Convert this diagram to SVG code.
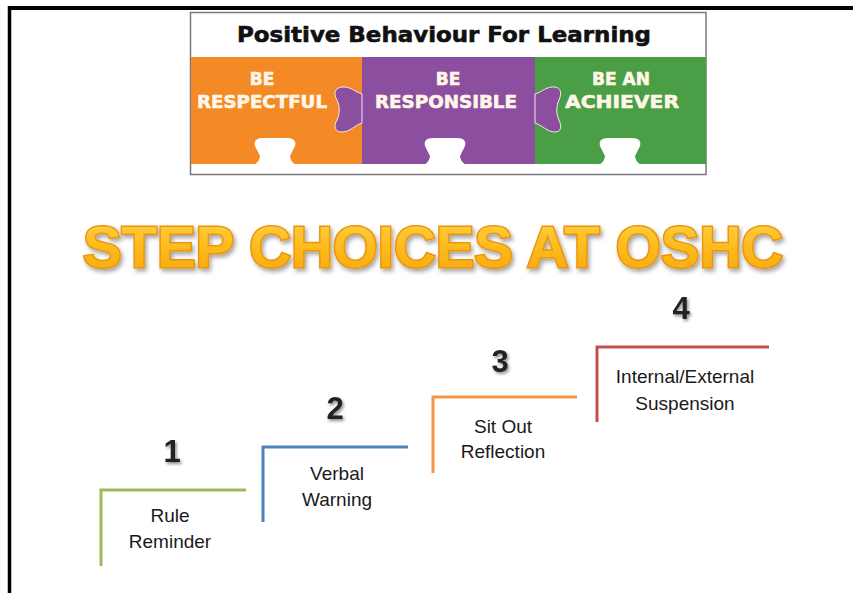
<svg xmlns="http://www.w3.org/2000/svg" width="853" height="593" viewBox="0 0 853 593">
<defs>
  <linearGradient id="gold" x1="0" y1="0" x2="0" y2="1">
    <stop offset="0" stop-color="#FFD54A"/>
    <stop offset="0.5" stop-color="#FDBB1E"/>
    <stop offset="1" stop-color="#F7A70A"/>
  </linearGradient>
  <filter id="tshadow" x="-10%" y="-30%" width="120%" height="160%">
    <feDropShadow dx="2" dy="3" stdDeviation="2" flood-color="#000" flood-opacity="0.35"/>
  </filter>
  <filter id="dshadow" x="-40%" y="-40%" width="180%" height="180%">
    <feDropShadow dx="1.5" dy="2" stdDeviation="1.5" flood-color="#000" flood-opacity="0.45"/>
  </filter>
  <path id="notch" d="M-21,165 Q-15,161 -15,156 L-20,146 Q-22,138 -12,138 L12,138 Q22,138 20,146 L15,156 Q15,161 21,165 Z"/>
</defs>
<style>
  .banner-t{font-family:"DejaVu Sans","Liberation Sans",sans-serif;font-weight:bold;fill:#111;stroke:#111;stroke-width:0.6;}
  .piece-t{font-family:"DejaVu Sans","Liberation Sans",sans-serif;font-weight:bold;fill:#FFF6E8;stroke:#FFF6E8;stroke-width:0.6;text-anchor:middle;}
  .title{font-family:"Liberation Sans",Arial,sans-serif;font-weight:bold;font-size:58px;fill:url(#gold);stroke:#EC940C;stroke-width:3;paint-order:stroke;text-anchor:middle;}
  .digit{font-family:"Liberation Sans",Arial,sans-serif;font-weight:bold;font-size:31px;fill:#222;text-anchor:middle;}
  .label{font-family:"Liberation Sans",Arial,sans-serif;font-size:19px;fill:#1a1a1a;text-anchor:middle;}
  .step{fill:none;stroke-width:3;}
</style>
<rect x="0" y="0" width="853" height="593" fill="#fff"/>
<g id="frame">
  <line x1="8" y1="8" x2="853" y2="8" stroke="#000" stroke-width="4"/>
  <line x1="9.5" y1="6" x2="9.5" y2="593" stroke="#000" stroke-width="3.5"/>
</g>
<g id="banner">
  <rect x="190.5" y="12.5" width="515.5" height="162" fill="#fff" stroke="#7a7a7a" stroke-width="1.5"/>
  <text class="banner-t" x="237" y="42" font-size="21" textLength="414" lengthAdjust="spacingAndGlyphs">Positive Behaviour For Learning</text>
  <rect x="191" y="57" width="171" height="107" fill="#F48A26"/>
  <rect x="362" y="57" width="173" height="107" fill="#8C4FA0"/>
  <rect x="535" y="57" width="171" height="107" fill="#4A9E46"/>
  <path d="M362,94 C355,92 350,86 342,87 C335,88 333,93 337,100 C340,106 340,114 337,120 C333,127 335,132 342,132 C350,132 355,125 362,123 Z" fill="#8C4FA0" stroke="#F3E6F3" stroke-width="1"/>
  <path d="M535,94 C542,92 547,86 555,87 C561,88 562,93 559,100 C556,106 556,114 559,120 C562,127 561,132 555,132 C547,132 542,125 535,123 Z" fill="#8C4FA0" stroke="#F3E6F3" stroke-width="1"/>
  <use href="#notch" x="275" fill="#fff"/>
  <use href="#notch" x="445" fill="#fff"/>
  <use href="#notch" x="620" fill="#fff"/>
  <text class="piece-t" x="262" y="85" font-size="17">BE</text>
  <text class="piece-t" x="262" y="108" font-size="18" textLength="130" lengthAdjust="spacingAndGlyphs">RESPECTFUL</text>
  <text class="piece-t" x="448" y="85" font-size="17">BE</text>
  <text class="piece-t" x="446" y="108" font-size="18" textLength="142" lengthAdjust="spacingAndGlyphs">RESPONSIBLE</text>
  <text class="piece-t" x="621" y="85" font-size="17">BE AN</text>
  <text class="piece-t" x="622" y="108" font-size="18" textLength="114" lengthAdjust="spacingAndGlyphs">ACHIEVER</text>
</g>
<g id="title">
  <text class="title" x="433" y="267" textLength="700" lengthAdjust="spacingAndGlyphs" filter="url(#tshadow)">STEP CHOICES AT OSHC</text>
</g>
<g id="step1">
  <path class="step" d="M101,566 V490 H246" stroke="#9BBB59"/>
  <text class="digit" x="172" y="462" filter="url(#dshadow)">1</text>
  <text class="label" x="170" y="522">Rule</text>
  <text class="label" x="170" y="548">Reminder</text>
</g>
<g id="step2">
  <path class="step" d="M263,522 V447 H408" stroke="#4F81BD"/>
  <text class="digit" x="335" y="419" filter="url(#dshadow)">2</text>
  <text class="label" x="337" y="480">Verbal</text>
  <text class="label" x="337" y="506">Warning</text>
</g>
<g id="step3">
  <path class="step" d="M433,473 V397 H577" stroke="#F79646"/>
  <text class="digit" x="500" y="372" filter="url(#dshadow)">3</text>
  <text class="label" x="503" y="433">Sit Out</text>
  <text class="label" x="503" y="458">Reflection</text>
</g>
<g id="step4">
  <path class="step" d="M597,422 V347 H769" stroke="#C0504D"/>
  <text class="digit" x="681" y="319" filter="url(#dshadow)">4</text>
  <text class="label" x="685" y="383">Internal/External</text>
  <text class="label" x="685" y="410">Suspension</text>
</g>
</svg>
